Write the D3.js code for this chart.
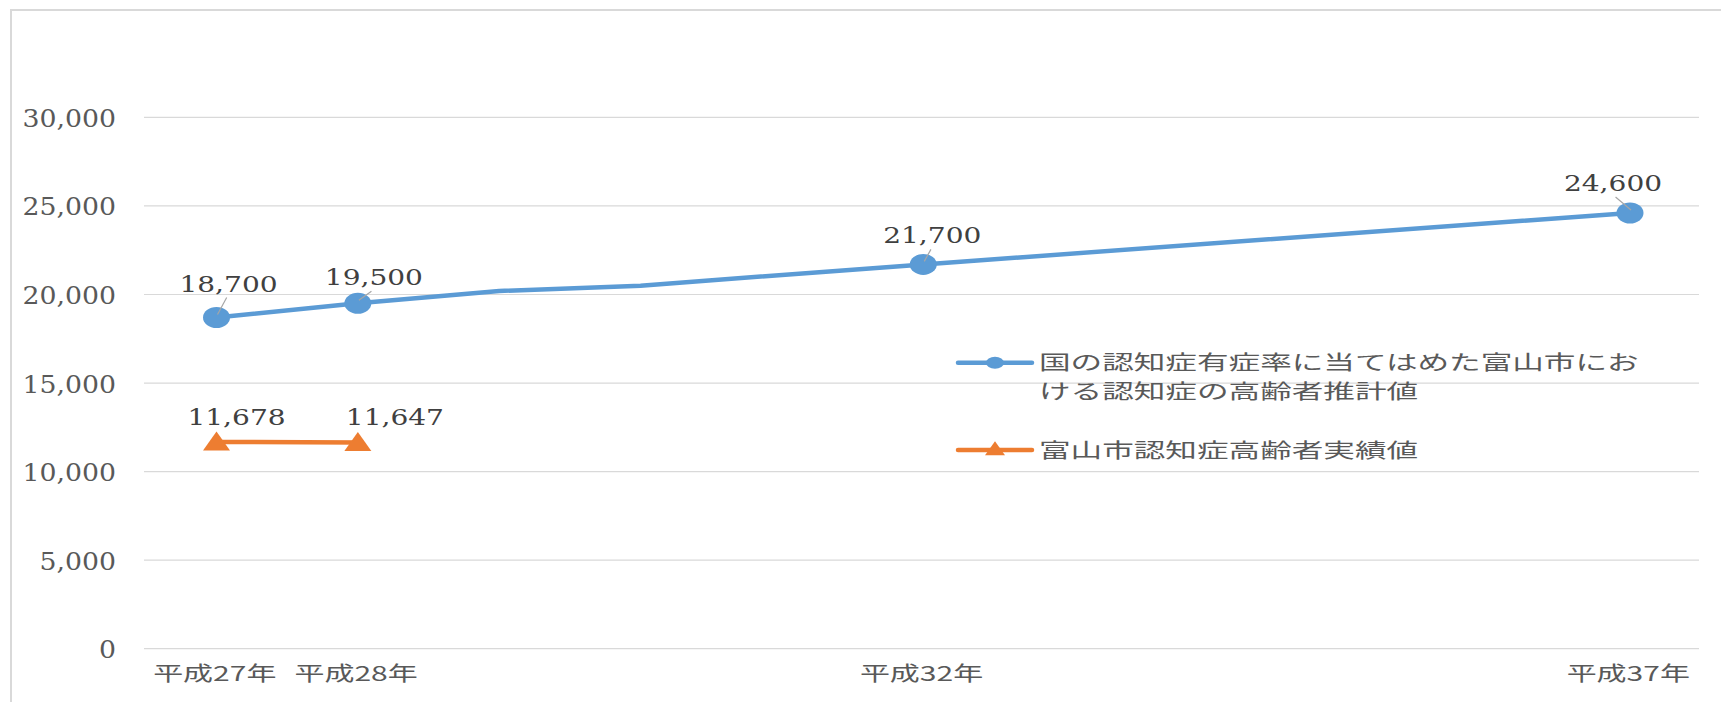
<!DOCTYPE html>
<html lang="ja">
<head>
<meta charset="utf-8">
<script src="https://cdn.jsdelivr.net/npm/d3@7"></script>
<style>
  html, body { margin: 0; padding: 0; background: #fff; }
  svg { display: block; }
</style>
</head>
<body>
<script>
// ---- data ----
const estimateYears  = [27, 28, 29, 30, 32, 37];
const estimateValues = [18700, 19500, 20200, 20500, 21700, 24600];
const estimateMarked = [true, true, false, false, true, true];

const actualYears  = [27, 28];
const actualValues = [11678, 11647];

const tickYears  = [27, 28, 32, 37];
const tickLabels = ["平成27年", "平成28年", "平成32年", "平成37年"];

const yTicks = [0, 5000, 10000, 15000, 20000, 25000, 30000];

const seriesNames = [
  "国の認知症有症率に当てはめた富山市における認知症の高齢者推計値",
  "富山市認知症高齢者実績値"
];

// label placement relative to each marker (dx: centre shift, dy: baseline lift)
const estimateLabelNudge = { 27: [12, 26], 28: [16, 18], 32: [9, 21], 37: [-17, 22] };
const actualLabelNudge   = { 27: [20, 17], 28: [37, 17] };

// ---- layout ----
const W = 1721, H = 702;
const plot = { left: 144, right: 1699 };
const blue = "#5b9bd5", orange = "#ed7d31";
const grid = "#d9d9d9";

const svg = d3.select("body").append("svg")
  .attr("width", W).attr("height", H);

// chart frame
svg.append("rect")
  .attr("x", 11).attr("y", 10)
  .attr("width", W + 20).attr("height", H + 20)
  .attr("fill", "#fff").attr("stroke", grid).attr("stroke-width", 2);

const x = d3.scaleLinear().domain([27, 37]).range([216.5, 1630]);
const y = d3.scaleLinear().domain([0, 30000]).range([648.7, 117.4]);

// horizontal gridlines
svg.append("g").selectAll("line").data(yTicks).join("line")
  .attr("x1", plot.left).attr("x2", plot.right)
  .attr("y1", d => y(d)).attr("y2", d => y(d))
  .attr("stroke", grid).attr("stroke-width", 1.2);

// y axis labels
const yAxis = svg.append("g")
  .attr("transform", "translate(116,0)")
  .call(d3.axisLeft(y).tickValues(yTicks).tickSize(0).tickPadding(0)
    .tickFormat(d3.format(",")));
yAxis.select(".domain").remove();
yAxis.selectAll("text")
  .attr("x", 0).attr("dy", "0.36em")
  .attr("transform", "scale(1.07,1)")
  .attr("fill", "#595959")
  .style("font-family", "'DejaVu Serif', serif")
  .style("font-size", "25px");

// x axis labels
const xAxis = svg.append("g")
  .attr("transform", "translate(0,648.7)")
  .call(d3.axisBottom(x).tickValues(tickYears).tickSize(0).tickPadding(0)
    .tickFormat((d, i) => tickLabels[i]));
xAxis.select(".domain").remove();
xAxis.selectAll("text")
  .attr("x", -1.5).attr("y", 32).attr("dy", 0)
  .attr("transform", "scale(1.5,1)")
  .attr("fill", "#595959")
  .style("font-family", "'Noto Sans CJK JP', sans-serif")
  .style("font-size", "20px");

// ---- estimate series (blue) ----
const estimate = estimateYears.map((yr, i) => ({ yr, v: estimateValues[i], marked: estimateMarked[i] }));
const line = d3.line().x(d => x(d.yr)).y(d => y(d.v));

svg.append("path").datum(estimate)
  .attr("d", line).attr("fill", "none")
  .attr("stroke", blue).attr("stroke-width", 4.5)
  .attr("stroke-linejoin", "round").attr("stroke-linecap", "round");

const estMarked = estimate.filter(d => d.marked);
svg.append("g").selectAll("ellipse").data(estMarked).join("ellipse")
  .attr("cx", d => x(d.yr)).attr("cy", d => y(d.v))
  .attr("rx", 13.5).attr("ry", 10.5)
  .attr("fill", blue);

// leader lines from labels to markers
svg.append("g").selectAll("line").data(estMarked).join("line")
  .attr("x1", d => x(d.yr) + estimateLabelNudge[d.yr][0] * 0.85)
  .attr("y1", d => y(d.v) - estimateLabelNudge[d.yr][1] + 6)
  .attr("x2", d => x(d.yr) + 1).attr("y2", d => y(d.v) - 3)
  .attr("stroke", "#a6a6a6").attr("stroke-width", 1.2);

const numFmt = d3.format(",");
function drawValueLabels(data, nudge) {
  svg.append("g").selectAll("text").data(data).join("text")
    .attr("transform", d => `translate(${x(d.yr) + nudge[d.yr][0]},${y(d.v) - nudge[d.yr][1]}) scale(1.22,1)`)
    .attr("text-anchor", "middle")
    .attr("fill", "#404040")
    .style("font-family", "'DejaVu Serif', serif")
    .style("font-size", "23px")
    .text(d => numFmt(d.v));
}
drawValueLabels(estMarked, estimateLabelNudge);

// ---- actual series (orange) ----
const actual = actualYears.map((yr, i) => ({ yr, v: actualValues[i] }));
svg.append("path").datum(actual)
  .attr("d", line).attr("fill", "none")
  .attr("stroke", orange).attr("stroke-width", 4.5);

const tri = (cx, cy, w, h) =>
  `M${cx},${cy - h * 0.55}L${cx + w / 2},${cy + h * 0.45}L${cx - w / 2},${cy + h * 0.45}Z`;

svg.append("g").selectAll("path").data(actual).join("path")
  .attr("d", d => tri(x(d.yr), y(d.v), 27, 19))
  .attr("fill", orange);

drawValueLabels(actual, actualLabelNudge);

// ---- legend ----
const legend = svg.append("g");
const legendText = (tx, ty, str) => legend.append("text")
  .attr("transform", `translate(${tx},${ty}) scale(1.58,1)`)
  .attr("fill", "#595959")
  .style("font-family", "'Noto Sans CJK JP', sans-serif")
  .style("font-size", "20px")
  .text(str);

// blue entry
legend.append("line")
  .attr("x1", 958).attr("x2", 1032).attr("y1", 362.7).attr("y2", 362.7)
  .attr("stroke", blue).attr("stroke-width", 4.5).attr("stroke-linecap", "round");
legend.append("ellipse")
  .attr("cx", 995).attr("cy", 362.7).attr("rx", 9).attr("ry", 6)
  .attr("fill", blue);
const wrapAt = 19;
legendText(1039, 370, seriesNames[0].slice(0, wrapAt));
legendText(1039, 398.5, seriesNames[0].slice(wrapAt));

// orange entry
legend.append("line")
  .attr("x1", 958).attr("x2", 1032).attr("y1", 450).attr("y2", 450)
  .attr("stroke", orange).attr("stroke-width", 4.5).attr("stroke-linecap", "round");
legend.append("path")
  .attr("d", tri(995, 449, 20, 14))
  .attr("fill", orange);
legendText(1039, 458, seriesNames[1]);
</script>
</body>
</html>
